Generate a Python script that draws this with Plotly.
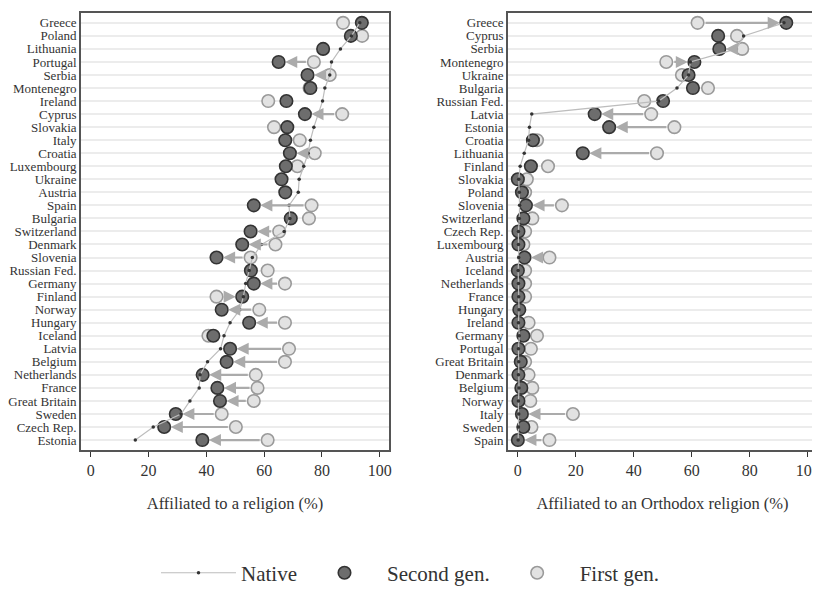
import plotly.graph_objects as go

# ---------- Data: left panel (affiliated to a religion, %) ----------
left_countries = ["Greece", "Poland", "Lithuania", "Portugal", "Serbia", "Montenegro", "Ireland",
                  "Cyprus", "Slovakia", "Italy", "Croatia", "Luxembourg", "Ukraine", "Austria",
                  "Spain", "Bulgaria", "Switzerland", "Denmark", "Slovenia", "Russian Fed.",
                  "Germany", "Finland", "Norway", "Hungary", "Iceland", "Latvia", "Belgium",
                  "Netherlands", "France", "Great Britain", "Sweden", "Czech Rep.", "Estonia"]
left_native = [93.1, 90.2, 86.4, 83.3, 82.7, 81.0, 80.2, 78.7, 77.2, 76.0, 75.2, 73.7, 72.1, 71.8,
               68.6, 68.9, 66.9, 59.1, 55.9, 54.8, 53.6, 52.8, 51.6, 48.2, 46.1, 44.9, 40.4,
               37.8, 37.5, 34.3, 31.2, 21.6, 15.4]
left_second = [93.8, 90.0, 80.4, 65.0, 75.0, 76.0, 67.7, 74.1, 68.0, 67.3, 68.9, 67.5, 66.0, 67.3,
               56.4, 69.2, 55.3, 52.4, 43.5, 55.4, 56.4, 52.4, 45.3, 54.8, 42.4, 48.2, 47.0,
               38.7, 43.8, 44.7, 29.4, 25.4, 38.6]
left_first = [87.3, 93.9, None, 77.2, 82.7, 75.7, 61.4, 87.0, 63.4, 72.3, 77.5, 71.5, None, None,
              76.4, 75.5, 65.2, 63.9, 55.3, 61.2, 67.2, 43.5, 58.3, 67.2, 40.7, 68.6, 67.2,
              57.1, 57.7, 56.4, 45.3, 50.2, 61.2]
left_arrow = [0, 0, 0, 1, 1, 0, 0, 1, 0, 0, 1, 0, 0, 0, 1, 0, 1, 1, 1, 0, 1, 1, 1, 1, 0, 1, 1,
              1, 1, 1, 1, 1, 1]

# ---------- Data: right panel (affiliated to an Orthodox religion, %) ----------
right_countries = ["Greece", "Cyprus", "Serbia", "Montenegro", "Ukraine", "Bulgaria", "Russian Fed.",
                   "Latvia", "Estonia", "Croatia", "Lithuania", "Finland", "Slovakia", "Poland",
                   "Slovenia", "Switzerland", "Czech Rep.", "Luxembourg", "Austria", "Iceland",
                   "Netherlands", "France", "Hungary", "Ireland", "Germany", "Portugal",
                   "Great Britain", "Denmark", "Belgium", "Norway", "Italy", "Sweden", "Spain"]
right_native = [91.8, 77.9, 75.4, 59.5, 58.9, 54.9, 48.6, 4.8, 4.0, 3.7, 2.2, 0.8, 0.3, 0.5,
                0.6, 0.5, 0.2, 0.2, 0.3, 0.1, 0.2, 0.3, 0.4, 0.2, 0.5, 0.2, 0.3, 0.2, 0.4,
                0.2, 0.3, 0.2, 0.1]
right_second = [92.6, 69.1, 69.5, 60.9, 58.9, 60.4, 50.1, 26.5, 31.5, 5.2, 22.4, 4.5, 0.0, 1.4,
                2.8, 1.9, 0.2, 0.2, 2.3, 0.0, 0.2, 0.2, 0.5, 0.2, 1.9, 0.2, 1.0, 0.2, 1.2,
                0.2, 1.4, 1.9, 0.0]
right_first = [62.0, 75.6, 77.4, 51.2, 56.6, 65.6, 43.6, 46.0, 54.0, 6.6, 48.0, 10.4, 3.1, 2.5,
               15.2, 5.0, 2.5, 1.9, 10.9, 2.5, 2.5, 2.5, None, 3.7, 6.6, 4.5, 2.5, 3.7, 5.0,
               4.3, 19.0, 4.7, 10.9]
right_arrow = [1, 0, 1, 1, 0, 0, 0, 1, 1, 0, 1, 0, 0, 0, 1, 0, 0, 0, 1, 0, 0, 0, 0, 0, 0, 0,
               0, 0, 0, 0, 1, 0, 1]

x_ticks = [0, 20, 40, 60, 80, 100]
titles = ["Affiliated to a religion (%)", "Affiliated to an Orthodox religion (%)"]

FONT = "Liberation Serif, Times New Roman, serif"
TXT = "#333333"
DARK_FILL, DARK_LINE = "#6d6d6d", "#333333"
LIGHT_FILL, LIGHT_LINE = "#e2e2e2", "#9a9a9a"
ARROW = "#ababab"

# page body has an 8px margin; figure is sized to fit the 820x594 window
W, H = 812, 586
OFF = 8

fig = go.Figure()
annotations = []

panels = [
    (left_countries, left_native, left_second, left_first, left_arrow, "x", "y"),
    (right_countries, right_native, right_second, right_first, right_arrow, "x2", "y2"),
]

for i, (cty, nat, sec, fst, arr, xa, ya) in enumerate(panels):
    idx = list(range(len(cty)))
    show = i == 0
    fig.add_trace(go.Scatter(
        x=fst, y=idx, mode="markers", name="First gen.", legendrank=3,
        marker=dict(size=12.5, color=LIGHT_FILL, line=dict(color=LIGHT_LINE, width=1.6)),
        xaxis=xa, yaxis=ya, showlegend=show, hoverinfo="skip"))
    fig.add_trace(go.Scatter(
        x=sec, y=idx, mode="markers", name="Second gen.", legendrank=2,
        marker=dict(size=12.5, color=DARK_FILL, line=dict(color=DARK_LINE, width=1.6)),
        xaxis=xa, yaxis=ya, showlegend=show, hoverinfo="skip"))
    fig.add_trace(go.Scatter(
        x=nat, y=idx, mode="lines+markers", name="Native", legendrank=1,
        line=dict(color="#bdbdbd", width=1.2),
        marker=dict(size=3.5, color="#333333"),
        xaxis=xa, yaxis=ya, showlegend=show, hoverinfo="skip"))
    for k in idx:
        if arr[k] and fst[k] is not None:
            annotations.append(dict(
                x=sec[k], y=k, ax=fst[k], ay=k, xref=xa, yref=ya, axref=xa, ayref=ya,
                showarrow=True, arrowhead=2, arrowsize=1.1, arrowwidth=2.2,
                arrowcolor=ARROW, standoff=6.5, startstandoff=6.5, text=""))

fig.update_layout(annotations=annotations)

n = len(left_countries)
yrange = [n - 1 + 0.76, -0.72]
common_x = dict(range=[-3.4, 103.2], tickvals=x_ticks, ticks="outside", ticklen=5,
                tickcolor="#333", tickwidth=1.2, showgrid=False, zeroline=False,
                showline=True, linecolor="#555", linewidth=1.6, mirror=True, automargin=False,
                tickfont=dict(family=FONT, size=16, color=TXT),
                title_font=dict(family=FONT, size=16.5, color=TXT), title_standoff=19)
common_y = dict(range=yrange, tickmode="array", ticks="", showgrid=True,
                gridcolor="#ececec", gridwidth=2, zeroline=False, automargin=False,
                showline=True, linecolor="#555", linewidth=1.6, mirror=True,
                tickfont=dict(family=FONT, size=13, color=TXT))

ydom = [1 - (453 - OFF) / H, 1 - (13.5 - OFF) / H]
fig.update_layout(
    width=W, height=H,
    paper_bgcolor="white", plot_bgcolor="white",
    margin=dict(l=0, r=0, t=0, b=0),
    xaxis=dict(domain=[(81 - OFF) / W, (389 - OFF) / W], anchor="y", title_text=titles[0], **common_x),
    xaxis2=dict(domain=[(508 - OFF) / W, (817 - OFF) / W], anchor="y2", title_text=titles[1], **common_x),
    yaxis=dict(domain=ydom, anchor="x",
               tickvals=list(range(n)), ticktext=left_countries, **common_y),
    yaxis2=dict(domain=ydom, anchor="x2",
                tickvals=list(range(len(right_countries))), ticktext=right_countries, **common_y),
    legend=dict(orientation="h", x=(410 - OFF) / W, xanchor="center",
                y=(594 - 577) / H, yanchor="middle",
                font=dict(family=FONT, size=21, color=TXT), itemwidth=75,
                bgcolor="rgba(0,0,0,0)"),
    font=dict(family=FONT, color=TXT),
)

fig.write_html("out.html")
